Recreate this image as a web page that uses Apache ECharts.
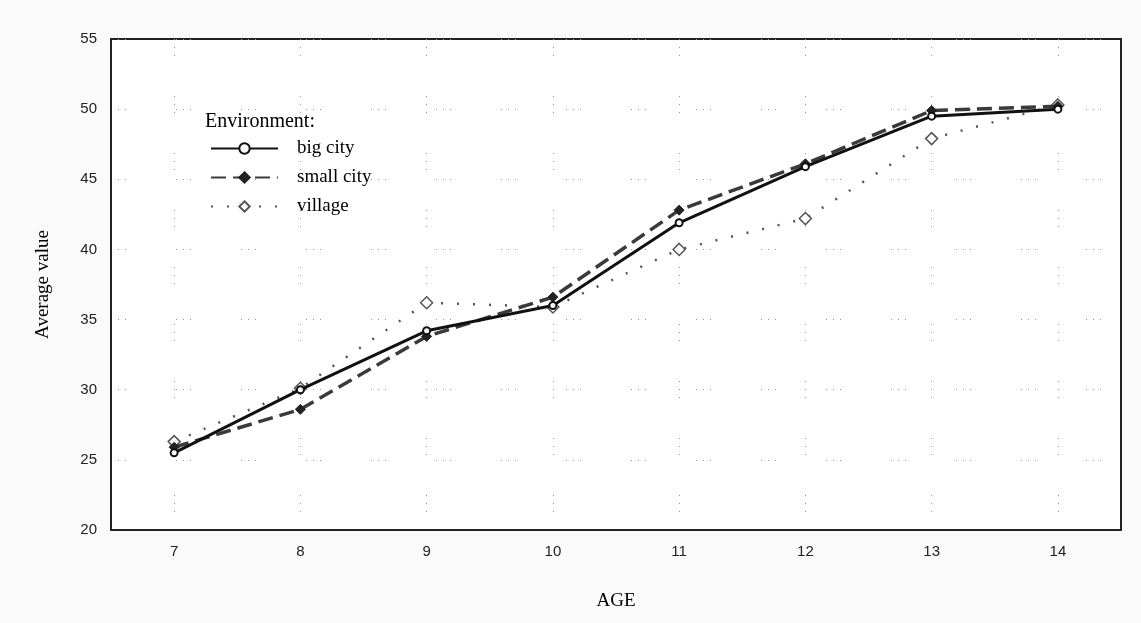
<!DOCTYPE html>
<html>
<head>
<meta charset="utf-8">
<script src="https://cdn.jsdelivr.net/npm/echarts@6/dist/echarts.min.js"></script>
<style>
  html, body { margin: 0; padding: 0; background: #fafafa; }
  #chart { width: 1141px; height: 623px; }
</style>
</head>
<body>
<div id="chart"></div>
<script>
// 年龄分组
var ages = ['7', '8', '9', '10', '11', '12', '13', '14'];
// 各环境平均值
var bigCity = [25.5, 30.0, 34.2, 36.0, 41.9, 45.9, 49.5, 50.0];
var smallCity = [25.9, 28.6, 33.8, 36.6, 42.8, 46.1, 49.9, 50.2];
var village = [26.3, 30.1, 36.2, 35.9, 40.0, 42.2, 47.9, 50.3];
var yTicks = [20, 25, 30, 35, 40, 45, 50, 55];

var serif = '"Liberation Serif", "DejaVu Serif", serif';
var sans = '"Liberation Sans", "DejaVu Sans", sans-serif';

var chart = echarts.init(document.getElementById('chart'));

var option = {
    backgroundColor: '#fafafa',
    animation: false,
    title: {
        text: 'Environment:',
        left: 205,
        top: 112,
        padding: 0,
        textStyle: { fontFamily: serif, fontSize: 20, fontWeight: 'normal', color: '#000' }
    },
    legend: {
        orient: 'vertical',
        left: 210,
        top: 139,
        padding: 0,
        itemWidth: 67,
        itemHeight: 13,
        itemGap: 10,
        data: ['big city', 'small city', 'village'],
        textStyle: { fontFamily: serif, fontSize: 19, color: '#000', padding: [0, 0, 0, 14] }
    },
    grid: {
        left: 111,
        top: 39,
        right: 20,
        bottom: 93,
        show: true,
        backgroundColor: '#ffffff',
        borderColor: '#222',
        borderWidth: 2
    },
    xAxis: {
        type: 'category',
        data: ages,
        boundaryGap: true,
        name: 'AGE',
        nameLocation: 'middle',
        nameGap: 62,
        nameTextStyle: { fontFamily: serif, fontSize: 19, color: '#000' },
        axisLine: { lineStyle: { color: '#222', width: 2 } },
        axisTick: { alignWithLabel: true, inside: true, length: 4, lineStyle: { color: '#222' } },
        axisLabel: { fontFamily: sans, fontSize: 15, color: '#222', margin: 14 },
        splitLine: {
            show: true,
            alignWithLabel: true,
            lineStyle: { color: '#999', width: 1, type: [1, 7, 1, 7, 1, 40] }
        }
    },
    yAxis: {
        type: 'value',
        min: 20,
        max: 55,
        interval: 5,
        name: 'Average value',
        nameLocation: 'middle',
        nameRotate: 90,
        nameGap: 58,
        nameTextStyle: { fontFamily: serif, fontSize: 19, color: '#000' },
        axisLine: { show: true, lineStyle: { color: '#222', width: 2 } },
        axisTick: { show: false },
        axisLabel: {
            fontFamily: sans, fontSize: 15, color: '#222', margin: 14,
            formatter: function (v) { return yTicks.indexOf(v) >= 0 ? String(v) : ''; }
        },
        splitLine: {
            show: true,
            lineStyle: { color: '#999', width: 1, type: [1, 6, 1, 6, 1, 50] }
        }
    },
    series: [
        {
            name: 'big city',
            type: 'line',
            data: bigCity,
            symbol: 'circle',
            symbolSize: 7,
            lineStyle: { color: '#111', width: 3 },
            itemStyle: { color: '#fff', borderColor: '#111', borderWidth: 2 },
            z: 4
        },
        {
            name: 'small city',
            type: 'line',
            data: smallCity,
            symbol: 'diamond',
            symbolSize: 10,
            lineStyle: { color: '#3a3a3a', width: 3.5, type: [15, 7] },
            itemStyle: { color: '#222', borderColor: '#222', borderWidth: 1 },
            z: 3
        },
        {
            name: 'village',
            type: 'line',
            data: village,
            symbol: 'diamond',
            symbolSize: 12,
            lineStyle: { color: '#555', width: 2.5, type: [2, 14] },
            itemStyle: { color: '#fff', borderColor: '#555', borderWidth: 1.5 },
            z: 2
        }
    ]
};

chart.setOption(option);
</script>
</body>
</html>
